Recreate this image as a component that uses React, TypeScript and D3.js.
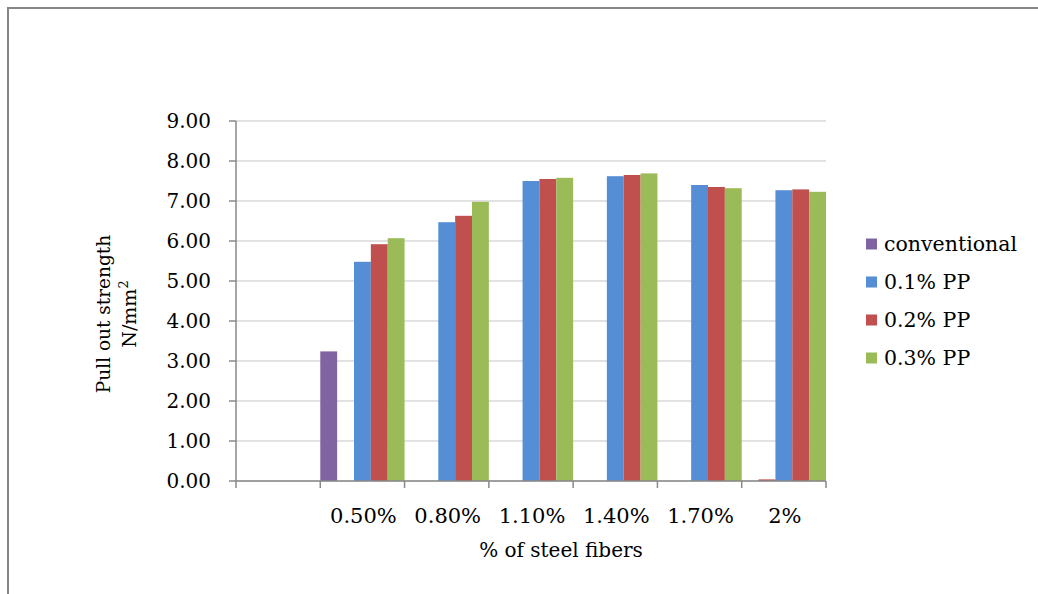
import React from "react";
import * as d3 from "d3";

const categories = ["", "0.50%", "0.80%", "1.10%", "1.40%", "1.70%", "2%"];
const seriesKeys = ["conventional", "hidden", "0.1% PP", "0.2% PP", "0.3% PP"];
const conventional = [null, 3.24, null, null, null, null, null];
const hiddenSeries = [null, null, null, null, null, null, 0.04];
const pp01 = [null, 5.48, 6.47, 7.5, 7.62, 7.4, 7.27];
const pp02 = [null, 5.92, 6.63, 7.55, 7.65, 7.35, 7.29];
const pp03 = [null, 6.07, 6.98, 7.58, 7.69, 7.32, 7.23];
const yTicks = [0, 1, 2, 3, 4, 5, 6, 7, 8, 9];
const legendKeys = ["conventional", "0.1% PP", "0.2% PP", "0.3% PP"];

const colors: Record<string, string> = {
  conventional: "#8064A2",
  hidden: "#C0504D",
  "0.1% PP": "#558ED5",
  "0.2% PP": "#C0504D",
  "0.3% PP": "#9BBB59",
};

const seriesValues: Record<string, (number | null)[]> = {
  conventional,
  hidden: hiddenSeries,
  "0.1% PP": pp01,
  "0.2% PP": pp02,
  "0.3% PP": pp03,
};

const FONT = "'DejaVu Serif', 'Liberation Serif', serif";

export default function App() {
  const W = 1038;
  const H = 594;
  const left = 236;
  const right = 826;
  const top = 121;
  const bottom = 481;

  const x0 = d3.scaleBand<string>().domain(categories.map((_, i) => String(i))).range([left, right]).padding(0);
  const x1 = d3.scaleBand<string>().domain(seriesKeys).range([0, x0.bandwidth()]).padding(0);
  const y = d3.scaleLinear().domain([0, 9]).range([bottom, top]);

  const boundaries = categories.map((_, i) => x0(String(i))!).concat([right]);

  return (
    <svg width={W} height={H} style={{ position: "absolute", left: 0, top: 0, background: "#fff" }} fontFamily={FONT}>
      <rect x={0} y={0} width={W} height={H} fill="#fff" />
      <path d={`M8,${H + 2} L8,8 L${W + 2},8`} fill="none" stroke="#868686" strokeWidth={2} />

      {yTicks.map((t) => (
        <line key={"g" + t} x1={left} x2={right} y1={y(t)} y2={y(t)} stroke="#d9d9d9" strokeWidth={1.5} />
      ))}

      {seriesKeys.map((k) =>
        seriesValues[k].map((v, i) =>
          v == null ? null : (
            <rect
              key={k + i}
              x={x0(String(i))! + x1(k)!}
              y={y(v)}
              width={x1.bandwidth()}
              height={Math.max(bottom - y(v), 1.5)}
              fill={colors[k]}
            />
          )
        )
      )}

      <line x1={left} x2={left} y1={top} y2={bottom} stroke="#898989" strokeWidth={1.5} />
      <line x1={left} x2={right} y1={bottom} y2={bottom} stroke="#898989" strokeWidth={1.5} />

      {yTicks.map((t) => (
        <g key={"t" + t}>
          <line x1={left - 7} x2={left} y1={y(t)} y2={y(t)} stroke="#898989" strokeWidth={1.5} />
          <text x={211} y={y(t)} dy="0.36em" textAnchor="end" fontSize={20} fill="#000">
            {t.toFixed(2)}
          </text>
        </g>
      ))}

      {boundaries.map((b, i) => (
        <line key={"xt" + i} x1={b} x2={b} y1={bottom} y2={bottom + 7} stroke="#898989" strokeWidth={1.5} />
      ))}

      {categories.map((c, i) => (
        <text key={"xl" + i} x={x0(String(i))! + x0.bandwidth() / 2 + 1} y={523} textAnchor="middle" fontSize={21} fill="#000">
          {c}
        </text>
      ))}

      <text x={561} y={557} textAnchor="middle" fontSize={20} fill="#000">
        % of steel fibers
      </text>

      <g transform="translate(110,314) rotate(-90)">
        <text x={0} y={0} textAnchor="middle" fontSize={18.5} fill="#000">
          Pull out strength
        </text>
        <text x={0} y={26} textAnchor="middle" fontSize={19} fill="#000">
          N/mm<tspan dy={-8} fontSize={13}>2</tspan>
        </text>
      </g>

      {legendKeys.map((k, i) => (
        <g key={"lg" + i} transform={`translate(866,${244 + i * 38})`}>
          <rect x={0} y={-5.5} width={11} height={11} fill={colors[k]} />
          <text x={18} y={0} dy="0.36em" fontSize={20.5} fill="#000">
            {k}
          </text>
        </g>
      ))}
    </svg>
  );
}
